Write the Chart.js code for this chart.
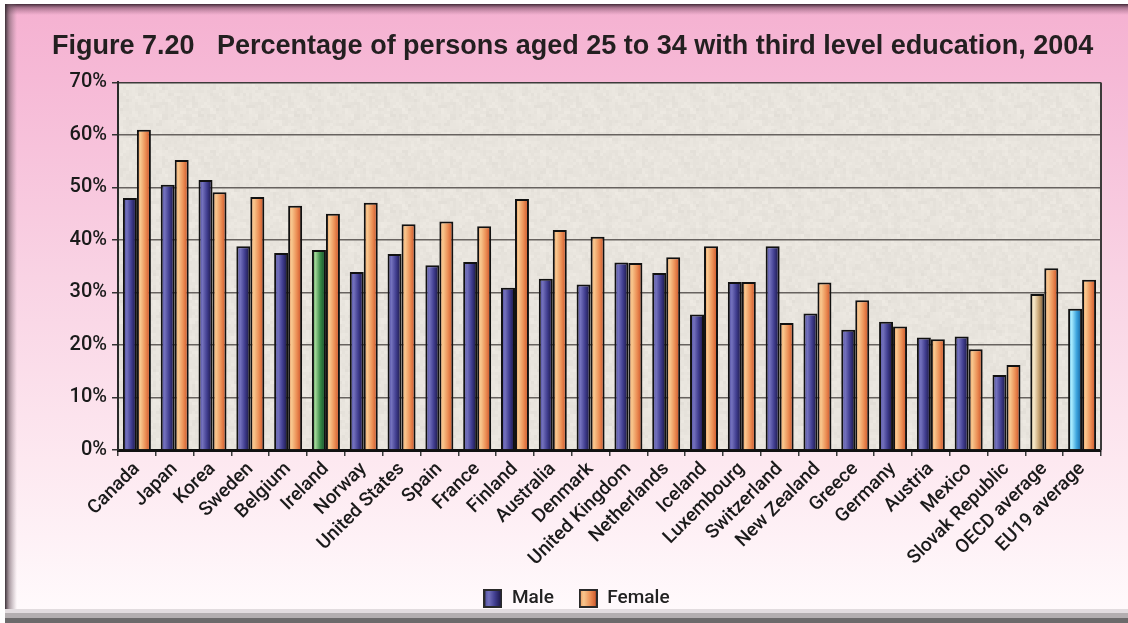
<!DOCTYPE html>
<html>
<head>
<meta charset="utf-8">
<script src="https://cdn.jsdelivr.net/npm/chart.js@4.4.1/dist/chart.umd.min.js"></script>
<style>
  html, body { margin: 0; padding: 0; background: #ffffff; }
  canvas { display: block; }
</style>
</head>
<body>
<canvas id="chart" width="1128" height="623"></canvas>
<script>
// ---- data -------------------------------------------------------------
const categories = [
  'Canada', 'Japan', 'Korea', 'Sweden', 'Belgium', 'Ireland', 'Norway',
  'United States', 'Spain', 'France', 'Finland', 'Australia', 'Denmark',
  'United Kingdom', 'Netherlands', 'Iceland', 'Luxembourg', 'Switzerland',
  'New Zealand', 'Greece', 'Germany', 'Austria', 'Mexico', 'Slovak Republic',
  'OECD average', 'EU19 average'
];
const maleShare = [
  48.0, 50.5, 51.4, 38.8, 37.5, 38.1, 33.9, 37.3, 35.2, 35.8, 30.9, 32.6, 31.5,
  35.7, 33.7, 25.8, 32.0, 38.8, 26.0, 22.9, 24.4, 21.4, 21.6, 14.3, 29.7, 26.9
];
const femaleShare = [
  61.0, 55.2, 49.1, 48.2, 46.5, 45.0, 47.1, 43.0, 43.5, 42.6, 47.8, 41.9, 40.6,
  35.6, 36.7, 38.8, 32.0, 24.2, 31.9, 28.5, 23.5, 21.1, 19.2, 16.2, 34.6, 32.4
];
const yTickLabels = ['0%', '10%', '20%', '30%', '40%', '50%', '60%', '70%'];
const seriesNames = ['Male', 'Female'];
const titleText = 'Figure 7.20   Percentage of persons aged 25 to 34 with third level education, 2004';

// ---- styling ------------------------------------------------------------
const TITLE_FONT = '"Liberation Sans", Arial, Helvetica, sans-serif';
const LABEL_FONT = 'Roboto, "Liberation Sans", Arial, sans-serif';
const CAT_PCT = 0.74;

// cylinder-like shading across each bar, left to right
const palettes = {
  blue:   [[0, '#45439a'], [0.28, '#7472bd'], [0.6, '#413e90'], [1, '#130f38']],
  orange: [[0, '#ea8c4f'], [0.25, '#f8c88f'], [0.6, '#ec9157'], [1, '#c94a22']],
  green:  [[0, '#3d8a4c'], [0.25, '#a0d596'], [0.6, '#3a8a48'], [1, '#0a4422']],
  sand:   [[0, '#c4a474'], [0.25, '#f8eacb'], [0.6, '#c9a676'], [1, '#6b4e2e']],
  sky:    [[0, '#3aa0dc'], [0.25, '#aaedff'], [0.6, '#3ea5de'], [1, '#0c5a98']]
};
const maleHighlight = { 'Ireland': 'green', 'OECD average': 'sand', 'EU19 average': 'sky' };

function shade(ctx, left, width, stops) {
  const g = ctx.createLinearGradient(left, 0, left + width, 0);
  stops.forEach(([o, c]) => g.addColorStop(o, c));
  return g;
}

function barFill(context) {
  const chart = context.chart;
  const ds = context.datasetIndex;
  const i = context.dataIndex;
  const key = ds === 0 ? (maleHighlight[categories[i]] || 'blue') : 'orange';
  const stops = palettes[key];
  const xs = chart.scales && chart.scales.x;
  if (!xs || !xs.width || i === undefined) return stops[1][1];
  const cat = xs.width / categories.length;
  const bw = cat * CAT_PCT / 2;
  const left = xs.getPixelForValue(i) - bw + ds * bw;
  return shade(chart.ctx, left, bw, stops);
}

function swatch(stops) {
  const c = document.createElement('canvas');
  c.width = 19; c.height = 19;
  const x = c.getContext('2d');
  x.fillStyle = shade(x, 0, 19, stops);
  x.fillRect(0, 0, 19, 19);
  x.strokeStyle = '#2a2a2a';
  x.lineWidth = 2;
  x.strokeRect(1, 1, 17, 17);
  return c;
}
const legendSwatches = [swatch(palettes.blue), swatch(palettes.orange)];

// mottled paper texture for the plot area
function grain(x, y) {
  const s = Math.sin(x * 12.9898 + y * 78.233) * 43758.5453;
  return s - Math.floor(s);
}
function paperPattern(ctx) {
  const c = document.createElement('canvas');
  const size = 96;
  c.width = size; c.height = size;
  const p = c.getContext('2d');
  for (let cy = 0; cy < size / 3; cy++) {
    for (let cx = 0; cx < size / 3; cx++) {
      const v = 0.55 * grain(cx, cy) + 0.45 * grain(Math.floor(cx / 2) + 31, Math.floor(cy / 2) + 17);
      const d = Math.round((v - 0.5) * 12);
      p.fillStyle = `rgb(${232 + d},${228 + d},${221 + d})`;
      p.fillRect(cx * 3, cy * 3, 3, 3);
    }
  }
  return ctx.createPattern(c, 'repeat');
}

const backdrop = {
  id: 'backdrop',
  beforeDraw(chart) {
    const { ctx, width: W, height: H, chartArea: a } = chart;
    ctx.save();
    ctx.fillStyle = '#ffffff';
    ctx.fillRect(0, 0, W, H);

    // pink panel
    const g = ctx.createLinearGradient(0, 4, 0, 612);
    g.addColorStop(0, '#f5b1d1');
    g.addColorStop(0.12, '#f6b9d6');
    g.addColorStop(0.45, '#f9d3e4');
    g.addColorStop(0.75, '#fde8f0');
    g.addColorStop(1, '#fffafc');
    ctx.fillStyle = g;
    ctx.fillRect(5, 4, W - 5, 608);

    // bevel: dark top and left edges
    const t = ctx.createLinearGradient(0, 4, 0, 15);
    t.addColorStop(0, 'rgba(55,32,46,0.95)');
    t.addColorStop(0.35, 'rgba(110,70,92,0.55)');
    t.addColorStop(1, 'rgba(140,90,115,0)');
    ctx.fillStyle = t;
    ctx.fillRect(5, 4, W - 5, 11);
    const l = ctx.createLinearGradient(5, 0, 17, 0);
    l.addColorStop(0, 'rgba(50,40,46,0.95)');
    l.addColorStop(0.35, 'rgba(100,80,90,0.55)');
    l.addColorStop(1, 'rgba(130,110,120,0)');
    ctx.fillStyle = l;
    ctx.fillRect(5, 4, 12, 615);

    // bottom band
    ctx.fillStyle = '#e2dcdf';
    ctx.fillRect(5, 609, W - 5, 4);
    ctx.fillStyle = '#b3aeb0';
    ctx.fillRect(5, 613, W - 5, 5);
    ctx.fillStyle = '#6c6a6b';
    ctx.fillRect(5, 618, W - 5, 5);

    // plot area paper
    ctx.fillStyle = paperPattern(ctx);
    ctx.fillRect(a.left, a.top, a.right - a.left, a.bottom - a.top);
    ctx.restore();
  },
  beforeDatasetsDraw(chart) {
    const { ctx, chartArea: a } = chart;
    ctx.save();
    ctx.strokeStyle = '#3c3a3a';
    ctx.lineWidth = 2;
    ctx.beginPath();
    ctx.moveTo(a.right, a.top);
    ctx.lineTo(a.right, a.bottom);
    ctx.stroke();
    ctx.restore();
  }
};

new Chart(document.getElementById('chart'), {
  type: 'bar',
  data: {
    labels: categories,
    datasets: [
      {
        label: seriesNames[0],
        data: maleShare,
        backgroundColor: barFill,
        borderColor: '#111111',
        borderWidth: 2,
        categoryPercentage: CAT_PCT,
        barPercentage: 1
      },
      {
        label: seriesNames[1],
        data: femaleShare,
        backgroundColor: barFill,
        borderColor: '#111111',
        borderWidth: 2,
        categoryPercentage: CAT_PCT,
        barPercentage: 1
      }
    ]
  },
  options: {
    responsive: false,
    animation: false,
    events: [],
    layout: { padding: { left: 52, right: 27, top: 10, bottom: 5 } },
    plugins: {
      title: {
        display: true,
        text: titleText,
        align: 'start',
        color: '#231f20',
        font: { family: TITLE_FONT, size: 27, weight: 'bold' },
        padding: { top: 20, bottom: 20 }
      },
      legend: {
        position: 'bottom',
        labels: {
          usePointStyle: true,
          boxWidth: 19,
          boxHeight: 19,
          padding: 25,
          color: '#222222',
          font: { family: LABEL_FONT, size: 19, weight: 500 },
          generateLabels: () => seriesNames.map((name, k) => ({
            text: name,
            pointStyle: legendSwatches[k],
            fillStyle: 'transparent',
            strokeStyle: 'transparent',
            lineWidth: 0,
            hidden: false,
            datasetIndex: k,
            fontColor: '#222222'
          }))
        }
      },
      tooltip: { enabled: false }
    },
    scales: {
      x: {
        grid: {
          display: true,
          drawOnChartArea: false,
          drawTicks: true,
          tickLength: 6,
          color: '#3a3a3a',
          lineWidth: 1.5
        },
        border: { display: true, color: '#111111', width: 3 },
        ticks: {
          autoSkip: false,
          maxRotation: 45,
          minRotation: 45,
          padding: 2,
          color: '#1a1a1a',
          font: { family: LABEL_FONT, size: 19, weight: 500 }
        },
        afterFit(scale) { scale.height = 114; }
      },
      y: {
        min: 0,
        max: 70,
        ticks: {
          stepSize: 10,
          padding: 5,
          color: '#1a1a1a',
          font: { family: LABEL_FONT, size: 20, weight: 500 },
          callback: (v) => yTickLabels[Math.round(v / 10)]
        },
        grid: {
          color: (c) => (c.tick && c.tick.value === 70 ? '#3c3a3a' : '#67625f'),
          lineWidth: 1.5,
          tickLength: 6,
          tickColor: '#333333'
        },
        border: { display: true, color: '#2a2a2a', width: 2 },
        afterFit(scale) { scale.width = 66; }
      }
    }
  },
  plugins: [backdrop]
});
</script>
</body>
</html>
